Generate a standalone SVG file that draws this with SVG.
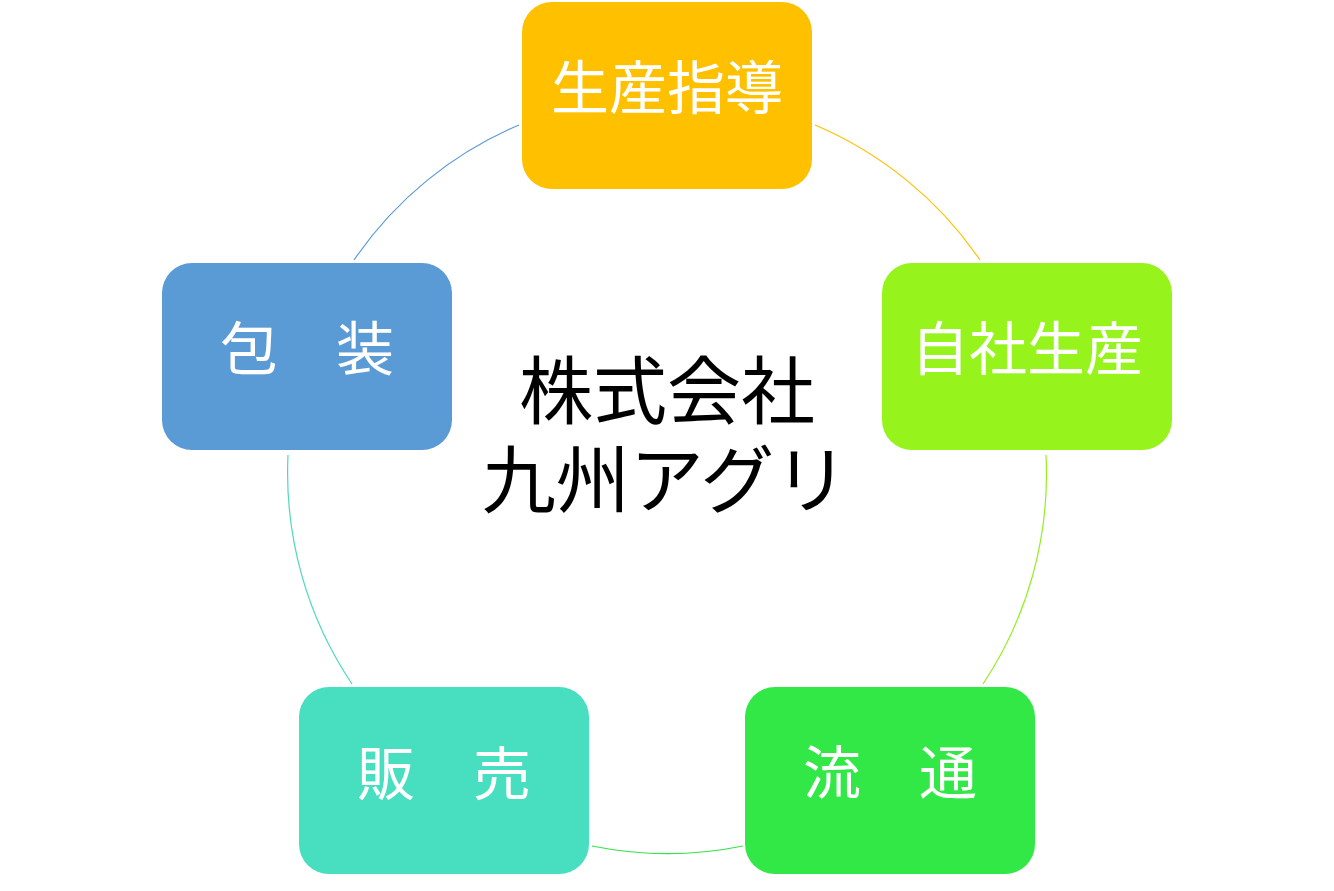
<svg xmlns="http://www.w3.org/2000/svg" width="1334" height="891" viewBox="0 0 1334 891">
<style>
.box text{font-family:"Noto Sans CJK JP","Noto Sans CJK SC",sans-serif;font-size:58px;fill:#FFFFFF;text-anchor:middle}
.arc{fill:none;stroke-width:1.2}
.center{font-family:"Noto Sans CJK JP","Noto Sans CJK SC",sans-serif;font-size:74px;fill:#000000;text-anchor:middle}
</style>
<rect width="1334" height="891" fill="#FFFFFF"/>
<g id="connectors">
<path class="arc" stroke="#FFC000" d="M815,125 A379,379 0 0 1 980,260"/>
<path class="arc" stroke="#94EE22" d="M1046,455 A379,379 0 0 1 983,684"/>
<path class="arc" stroke="#36E24A" d="M743,846 A379,379 0 0 1 592,846"/>
<path class="arc" stroke="#4ED8BE" d="M352,684 A379,379 0 0 1 288,455"/>
<path class="arc" stroke="#5B9BD5" d="M354,260 A379,379 0 0 1 519,125"/>
</g>
<g id="node-top" class="box">
<rect x="522" y="2" width="290" height="187" rx="30" fill="#FFC000"/>
<text x="667" y="109">生産指導</text>
</g>
<g id="node-right" class="box">
<rect x="882" y="263" width="290" height="187" rx="30" fill="#96F41C"/>
<text x="1027" y="370">自社生産</text>
</g>
<g id="node-bottom-right" class="box">
<rect x="745" y="687" width="290" height="187" rx="30" fill="#31E846"/>
<text x="890" y="794">流　通</text>
</g>
<g id="node-bottom-left" class="box">
<rect x="299" y="687" width="290" height="187" rx="30" fill="#48DEC0"/>
<text x="444" y="795">販　売</text>
</g>
<g id="node-left" class="box">
<rect x="162" y="263" width="290" height="187" rx="30" fill="#5B9BD5"/>
<text x="307" y="370">包　装</text>
</g>
<g id="center">
<text class="center"><tspan x="667" y="418">株式会社</tspan><tspan x="665" y="507">九州アグリ</tspan></text>
</g>
</svg>
